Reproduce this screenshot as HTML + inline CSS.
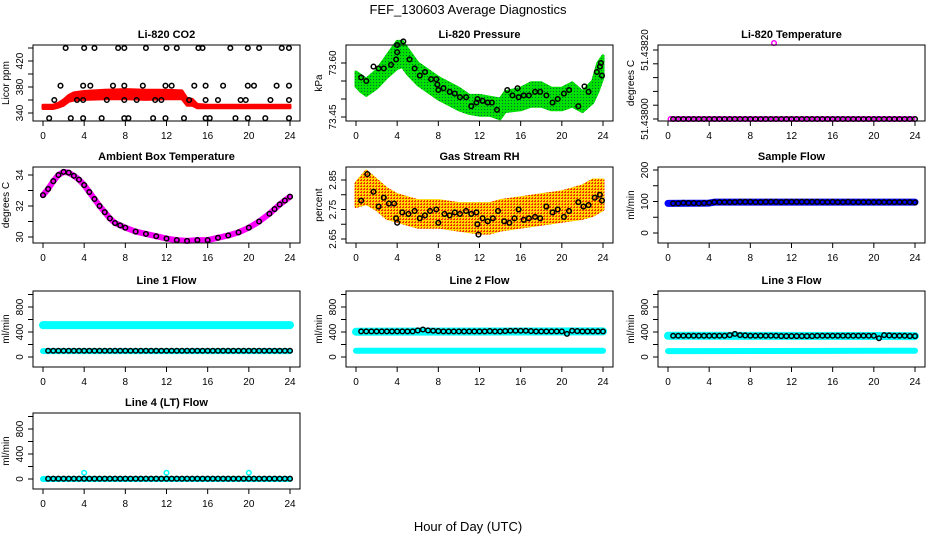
<!DOCTYPE html>
<html><head><meta charset="utf-8"><style>
body{margin:0;background:#fff}
svg{display:block;font-family:"Liberation Sans",sans-serif}
</style></head><body>
<svg id="chart" width="936" height="540" viewBox="0 0 936 540">
<defs>
<pattern id="greenDots" width="3" height="3" patternUnits="userSpaceOnUse"><rect width="3" height="3" fill="#00e000"/><rect x="1" y="1" width="1" height="1" fill="#063"/></pattern>
<pattern id="rhDots" width="3" height="3" patternUnits="userSpaceOnUse"><rect width="3" height="3" fill="#ffd800"/><rect x="0" y="0" width="2" height="1" fill="#f03000"/><rect x="1" y="2" width="1" height="1" fill="#f03000"/></pattern>
</defs>
<text x="468" y="14" text-anchor="middle" font-size="13">FEF_130603  Average Diagnostics</text>
<text x="468" y="531" text-anchor="middle" font-size="13">Hour of Day (UTC)</text>
</svg>
<script>
// ---- data ----
const gridHours=[0.5,1,1.5,2,2.5,3,3.5,4,4.5,5,5.5,6,6.5,7,7.5,8,8.5,9,9.5,10,10.5,11,11.5,12,12.5,13,13.5,14,14.5,15,15.5,16,16.5,17,17.5,18,18.5,19,19.5,20,20.5,21,21.5,22,22.5,23,23.5,24];

const co2BandHours=[0,1,1.5,2,2.5,3,4,6,8,10,12,13.5,14,14.5,15,16,20,24];
const co2BandLo=[347,347,349,352,358,360,361,362,362,361,362,362,352,352,348,348,348,348];
const co2BandHi=[352,352,355,360,367,371,373,375,376,375,375,374,362,361,353,352,352,352];
const co2PtHours=[2.2,4,5,7.3,7.9,10,12,13,15.1,15.5,18.2,19.9,21,23.2,23.9,1.7,3.9,4.6,6.8,7.9,9.7,11.9,12.5,14.7,15.8,17.5,19.9,20.5,22.7,23.9,1.1,3.3,3.9,6.2,7.9,9.1,10.9,11.5,14.2,15.8,17,19.2,19.7,22.1,23.9,0.6,2.7,3.9,5.7,7.9,8.3,10.7,11.9,13.7,15.8,16.2,18.7,19.9,21.6,23.9];
const co2PtVals=[440,440,440,440,440,440,440,440,440,440,440,440,440,440,440,382,382,382,382,382,382,382,382,382,382,382,382,382,382,382,360,360,360,360,360,360,360,360,360,360,360,360,360,360,360,332,332,332,332,332,332,332,332,332,332,332,332,332,332,332];

const presBandHours=[0,0.5,1,2,3,4,4.5,5,6,8,10,11,12,13,14,14.5,16,17,18,19,20,21,22,23,23.5,24];
const presBandLo=[73.535,73.52,73.51,73.53,73.56,73.585,73.59,73.57,73.54,73.50,73.47,73.46,73.455,73.455,73.445,73.465,73.47,73.48,73.48,73.47,73.47,73.48,73.465,73.49,73.52,73.56];
const presBandHi=[73.575,73.565,73.555,73.58,73.62,73.66,73.66,73.64,73.60,73.56,73.53,73.51,73.51,73.505,73.50,73.52,73.53,73.545,73.545,73.53,73.53,73.545,73.52,73.55,73.60,73.62];
const presPtHours=[0.5,1,1.7,2.2,2.7,3.4,3.9,4,4,4.6,5.2,5.7,6.2,6.7,7.3,7.8,7.9,8,8.5,9.1,9.6,10.1,10.7,11.2,11.7,11.8,12.3,12.8,13.2,13.7,14.7,15.2,15.7,15.8,16.3,16.8,17.4,17.9,18.5,19.1,19.6,20.2,20.7,21.6,22.2,22.6,23.4,23.7,23.8,23.9];
const presPtVals=[73.56,73.55,73.59,73.585,73.585,73.595,73.61,73.63,73.65,73.66,73.61,73.585,73.565,73.575,73.555,73.555,73.54,73.525,73.53,73.52,73.515,73.505,73.505,73.48,73.49,73.5,73.495,73.49,73.49,73.47,73.525,73.51,73.53,73.505,73.51,73.51,73.52,73.52,73.51,73.49,73.5,73.515,73.525,73.48,73.535,73.52,73.575,73.59,73.6,73.565];

const tempPtVals=[51.438,51.438,51.438,51.438,51.438,51.438,51.438,51.438,51.438,51.438,51.438,51.438,51.438,51.438,51.438,51.438,51.438,51.438,51.438,51.438,51.438,51.438,51.438,51.438,51.438,51.438,51.438,51.438,51.438,51.438,51.438,51.438,51.438,51.438,51.438,51.438,51.438,51.438,51.438,51.438,51.438,51.438,51.438,51.438,51.438,51.438,51.438,51.438];
const tempOutlierHour=[10.3];
const tempOutlierVal=[51.43822];

const ambHours=[0,0.5,1,1.5,2,2.5,3,3.5,4,4.5,5,5.5,6,6.5,7,7.5,8,9,10,11,12,13,14,15,16,17,18,19,20,21,22,22.5,23,23.5,24];
const ambVals=[32.7,33.1,33.6,34.0,34.2,34.15,33.95,33.7,33.35,32.9,32.45,32.0,31.6,31.2,30.9,30.75,30.6,30.35,30.2,30.05,29.9,29.8,29.75,29.8,29.8,29.95,30.1,30.3,30.6,31.0,31.5,31.8,32.1,32.35,32.6];

const rhBandHours=[0,1,2,3,4,5,6,8,10,12,13,14,16,18,20,22,23,24];
const rhBandLo=[2.76,2.77,2.75,2.72,2.71,2.70,2.69,2.69,2.68,2.67,2.67,2.68,2.69,2.70,2.71,2.72,2.73,2.75];
const rhBandHi=[2.84,2.88,2.85,2.82,2.80,2.79,2.78,2.78,2.77,2.77,2.77,2.78,2.79,2.80,2.81,2.83,2.85,2.85];
const rhPtHours=[0.5,1.1,1.7,2.2,2.7,3.2,3.7,3.9,4,4.5,5.1,5.7,6.2,6.7,7.2,7.8,8,8.6,9.1,9.6,10.1,10.7,11.2,11.7,11.8,11.9,12.3,12.8,13.3,13.8,14.4,14.9,15.4,15.8,16.3,16.8,17.4,17.9,18.5,19.1,19.6,20.2,20.7,21.6,22.1,22.6,23.2,23.7,23.9];
const rhPtVals=[2.78,2.87,2.81,2.76,2.79,2.77,2.77,2.72,2.705,2.74,2.735,2.745,2.72,2.73,2.745,2.75,2.705,2.735,2.73,2.74,2.735,2.745,2.735,2.74,2.7,2.665,2.72,2.71,2.72,2.745,2.71,2.705,2.72,2.75,2.715,2.72,2.725,2.72,2.76,2.74,2.75,2.725,2.745,2.775,2.76,2.765,2.79,2.8,2.78];

const sampleBandHours=[0,4,4.5,24];
const sampleBandVals=[94,95,98,98];
const sampleBlack=[94,94,96,95,95,94,95,96,98,98,98,98,98,99,99,99,98,98,99,99,99,98,99,99,99,99,99,99,99,98,98,99,98,98,99,98,98,98,98,98,98,98,98,98,98,98,98,97];

const flowBandHours=[0,24];
const line1HighBand=[510,510];
const line1LowBand=[95,95];
const line1Black=[100,100,100,100,100,100,100,100,100,100,100,100,100,100,100,100,100,100,100,100,100,100,100,100,100,100,100,100,100,100,100,100,100,100,100,100,100,100,100,100,100,100,100,100,100,100,100,100];
const line2HighBand=[405,410];
const line2LowBand=[100,100];
const line2Black=[410,410,410,410,410,410,410,410,410,410,410,425,440,425,420,415,410,410,410,410,410,410,410,410,410,415,410,410,415,420,420,420,420,415,410,410,410,410,410,410,370,420,415,410,410,410,410,410];
const line3HighBand=[340,335];
const line3LowBand=[95,100];
const line3Black=[340,340,340,340,340,340,340,340,340,340,340,350,370,350,345,340,340,340,340,340,340,335,335,335,335,335,335,335,340,340,340,340,340,340,340,340,340,340,340,340,300,350,345,340,340,340,335,335];
const line4Band=[0,0];
const line4Black=[5,5,5,5,5,5,5,5,5,5,5,5,5,5,5,5,5,5,5,5,5,5,5,5,5,5,5,5,5,5,5,5,5,5,5,5,5,5,5,5,5,5,5,5,5,5,5,5];
const line4SpikeHours=[4,12,20];
const line4SpikeVals=[100,100,100];

// ---- layout ----
const svg=document.getElementById('chart');
const NS='http://www.w3.org/2000/svg';
const colLeft=[33,346,658], rowTop=[45,167,291,413], W=267, H=76;
function mk(tag,attrs,parent){const e=document.createElementNS(NS,tag);for(const k in attrs)e.setAttribute(k,attrs[k]);(parent||svg).appendChild(e);return e;}

function makePanel(cfg){
  const L=colLeft[cfg.col],T=rowTop[cfg.row];
  const g=mk('g',{});
  
  
  const xs=h=>L+10+(W-20)*h/24;
  const ys=v=>T+cfg.p1+(v-cfg.v1)*(cfg.p2-cfg.p1)/(cfg.v2-cfg.v1);
  const t=mk('text',{x:L+W/2,y:T-7,'text-anchor':'middle','font-size':11,'font-weight':'bold'},g);
  t.textContent=cfg.title;
  
  
  const plot=mk('g',{},g);
  
  
  const box=mk('rect',{x:L,y:T,width:W,height:H,fill:'none',stroke:'#000','stroke-width':1},g);
  
  
  // x axis
  const xa=mk('g',{},g);
  
  
  mk('line',{x1:xs(0),x2:xs(24),y1:T+H,y2:T+H,stroke:'#000'},xa);
  [0,4,8,12,16,20,24].forEach(h=>{
    mk('line',{x1:xs(h),x2:xs(h),y1:T+H,y2:T+H+5,stroke:'#000'},xa);
    const tx=mk('text',{x:xs(h),y:T+H+18,'text-anchor':'middle','font-size':10},xa);
    tx.textContent=h;
    
    
  });
  // y axis
  const ya=mk('g',{},g);
  
  
  const tk=cfg.ticks;
  mk('line',{x1:L,x2:L,y1:ys(tk[0]),y2:ys(tk[tk.length-1]),stroke:'#000'},ya);
  tk.forEach(v=>mk('line',{x1:L-5,x2:L,y1:ys(v),y2:ys(v),stroke:'#000'},ya));
  cfg.labels.forEach((v,i)=>{
    const y=ys(v),x=L-10;
    const tx=mk('text',{x:x,y:y,'text-anchor':'middle','font-size':10,transform:`rotate(-90 ${x} ${y})`},ya);
    tx.textContent=cfg.labelText?cfg.labelText[i]:v;
    
    
  });
  const yl=mk('text',{x:L-24,y:T+H/2,'text-anchor':'middle','font-size':10,transform:`rotate(-90 ${L-24} ${T+H/2})`},ya);
  yl.textContent=cfg.ylab;
  
  
  return {plot,xs,ys};
}
function band(p,hours,lo,hi,fill,name){
  const pts=hours.map((h,i)=>p.xs(h)+','+p.ys(hi[i])).concat(hours.map((h,i)=>[h,i]).reverse().map(([h,i])=>p.xs(h)+','+p.ys(lo[i])));
  const e=mk('polygon',{points:pts.join(' '),fill:fill,stroke:fill,'stroke-width':3,'stroke-linejoin':'round'},p.plot);
  
  
}
function thick(p,hours,vals,color,w,name){
  const e=mk('polyline',{points:hours.map((h,i)=>p.xs(h)+','+p.ys(vals[i])).join(' '),fill:'none',stroke:color,'stroke-width':w,'stroke-linecap':'round','stroke-linejoin':'round'},p.plot);
  
  
}
function points(p,hours,vals,color,name){
  const g=mk('g',{},p.plot);
  
  
  hours.forEach((h,i)=>{
    const c=mk('circle',{cx:p.xs(h),cy:p.ys(vals[i]),r:2.3,fill:'none',stroke:color,'stroke-width':1.5},g);
    
    
  });
}
const flowCfg={v1:0,p1:66,v2:800,p2:16,ticks:[0,200,400,600,800,1000],labels:[0,400,800],ylab:'ml/min'};

// CO2
let p=makePanel({name:'co2',col:0,row:0,title:'Li-820 CO2',ylab:'Licor ppm',v1:340,p1:68,v2:420,p2:16,ticks:[340,360,380,400,420,440],labels:[340,380,420]});
band(p,co2BandHours,co2BandLo,co2BandHi,'#f00','co2-band');
points(p,co2PtHours,co2PtVals,'#000','co2-points');
// Pressure
p=makePanel({name:'pressure',col:1,row:0,title:'Li-820 Pressure',ylab:'kPa',v1:73.45,p1:72,v2:73.60,p2:18,ticks:[73.45,73.5,73.55,73.6],labels:[73.45,73.60],labelText:['73.45','73.60']});
band(p,presBandHours,presBandLo,presBandHi,'url(#greenDots)','pressure-band');
points(p,presPtHours,presPtVals,'#000','pressure-points');
// Li-820 temp
p=makePanel({name:'li820-temp',col:2,row:0,title:'Li-820 Temperature',ylab:'degrees C',v1:51.438,p1:74,v2:51.4382,p2:5,ticks:[51.438,51.43804,51.43808,51.43812,51.43816,51.4382],labels:[51.438,51.4382],labelText:['51.43800','51.43820']});
points(p,gridHours.map(h=>h-0.25),tempPtVals,'#f0f','li820-temp-pink-points');
points(p,gridHours,tempPtVals,'#000','li820-temp-black-points');
points(p,tempOutlierHour,tempOutlierVal,'#f0f','li820-temp-outlier');
// Ambient
p=makePanel({name:'ambient-temp',col:0,row:1,title:'Ambient Box Temperature',ylab:'degrees C',v1:30,p1:70,v2:34,p2:8,ticks:[30,31,32,33,34],labels:[30,32,34]});
thick(p,ambHours,ambVals,'#f0f',6,'ambient-temp-band');
points(p,ambHours,ambVals,'#000','ambient-temp-points');
// RH
p=makePanel({name:'gas-rh',col:1,row:1,title:'Gas Stream RH',ylab:'percent',v1:2.65,p1:72,v2:2.85,p2:13,ticks:[2.65,2.7,2.75,2.8,2.85],labels:[2.65,2.75,2.85],labelText:['2.65','2.75','2.85']});
band(p,rhBandHours,rhBandLo,rhBandHi,'url(#rhDots)','gas-rh-band');
points(p,rhPtHours,rhPtVals,'#000','gas-rh-points');
// Sample flow
p=makePanel({name:'sample-flow',col:2,row:1,title:'Sample Flow',ylab:'ml/min',v1:0,p1:66,v2:200,p2:3,ticks:[0,50,100,150,200],labels:[0,100,200]});
thick(p,sampleBandHours,sampleBandVals,'#00f',7,'sample-flow-band');
points(p,gridHours,sampleBlack,'#000','sample-flow-points');
// Line flows
p=makePanel(Object.assign({name:'line1-flow',col:0,row:2,title:'Line 1 Flow'},flowCfg));
thick(p,flowBandHours,line1HighBand,'#0ff',8,'line1-high-band');
thick(p,flowBandHours,line1LowBand,'#0ff',6,'line1-low-band');
points(p,gridHours,line1Black,'#000','line1-points');
p=makePanel(Object.assign({name:'line2-flow',col:1,row:2,title:'Line 2 Flow'},flowCfg));
thick(p,flowBandHours,line2HighBand,'#0ff',8,'line2-high-band');
thick(p,flowBandHours,line2LowBand,'#0ff',6,'line2-low-band');
points(p,gridHours,line2Black,'#000','line2-points');
p=makePanel(Object.assign({name:'line3-flow',col:2,row:2,title:'Line 3 Flow'},flowCfg));
thick(p,flowBandHours,line3HighBand,'#0ff',8,'line3-high-band');
thick(p,flowBandHours,line3LowBand,'#0ff',6,'line3-low-band');
points(p,gridHours,line3Black,'#000','line3-points');
p=makePanel(Object.assign({name:'line4-flow',col:0,row:3,title:'Line 4 (LT) Flow'},flowCfg));
thick(p,flowBandHours,line4Band,'#0ff',6,'line4-band');
points(p,line4SpikeHours,line4SpikeVals,'#0ff','line4-spikes');
points(p,gridHours,line4Black,'#000','line4-points');
</script>
</body></html>
